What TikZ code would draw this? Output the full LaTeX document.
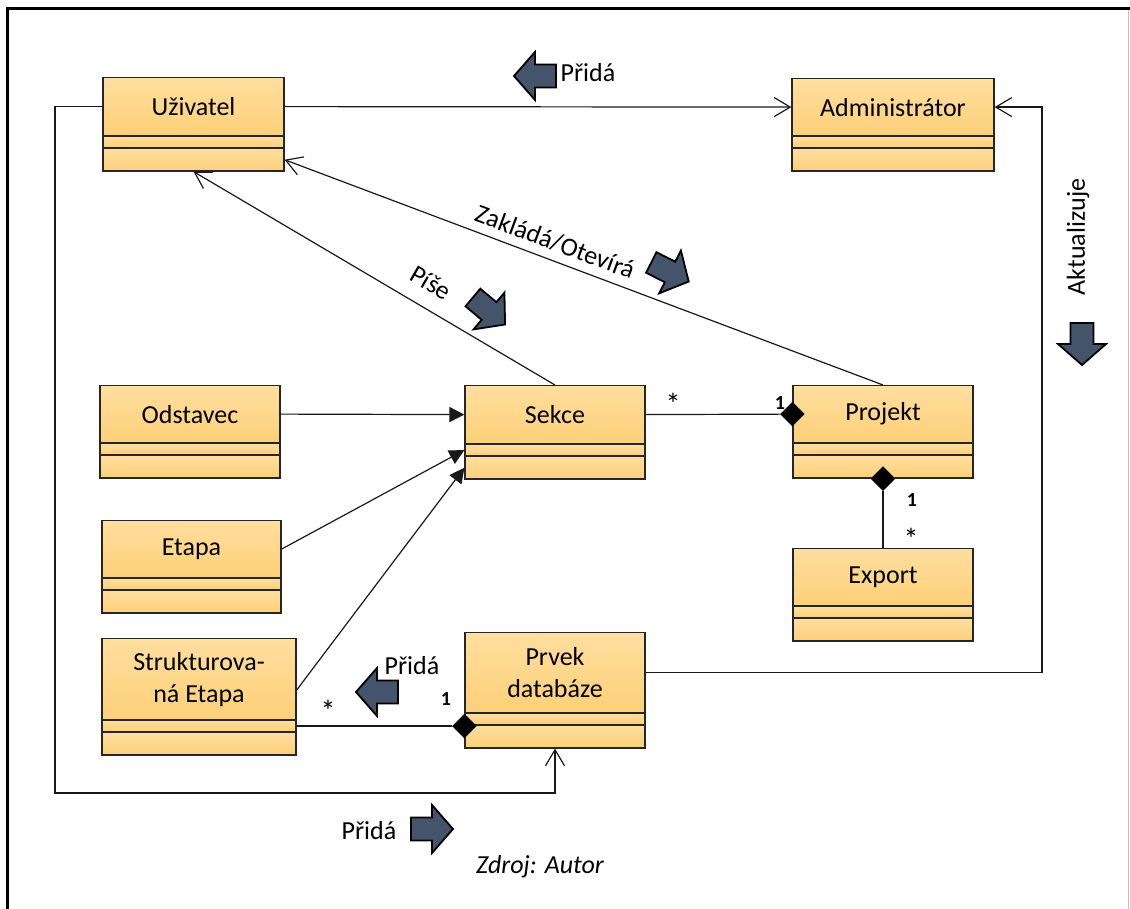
\documentclass[tikz,border=0pt]{standalone}
\usepackage{fontspec}
\setmainfont{Carlito}
\usetikzlibrary{arrows.meta,shapes.geometric,calc}

\definecolor{clsTop}{HTML}{FFDE9F}
\definecolor{clsBot}{HTML}{FDD078}
\definecolor{clsEdge}{HTML}{262626}
\definecolor{blkArrow}{HTML}{44546A}

\tikzset{
  clsname/.style={draw=clsEdge, line width=1.2pt, top color=clsTop, bottom color=clsBot,
    inner sep=0pt, align=center, font=\fontsize{26}{32}\selectfont},
  clscomp/.style={draw=clsEdge, line width=1.2pt, top color=clsTop, bottom color=clsBot, inner sep=0pt},
  conn/.style={draw=black!90, line width=1.2pt},
  navig/.style={conn, -{Straight Barb[length=16pt,width=19pt]}},
  gener/.style={conn, -{Triangle[length=15pt,width=15pt]}},
  compdiam/.style={diamond, fill=black, draw=black, minimum width=24pt, minimum height=24pt, inner sep=0pt},
  lbl/.style={font=\fontsize{26}{30}\selectfont, inner sep=0pt},
  mult/.style={font=\fontsize{20}{22}\selectfont\bfseries, inner sep=0pt},
  multstar/.style={font=\fontsize{30}{32}\selectfont, inner sep=0pt},
  pics/blockarrow/.style={code={
    \draw[fill=blkArrow, draw=black, line width=1.8pt, line join=miter]
      (-21,-11.5) -- (0,-11.5) -- (0,-24) -- (21,0) -- (0,24) -- (0,11.5) -- (-21,11.5) -- cycle;
  }},
}

% UML class: name compartment, attribute and operation compartments
% #1 name, #2 centre x, #3 top y, #4 width, #5 height of the name part, #6 label
\newcommand{\umlclass}[6]{%
  \node[clsname, minimum width=#4pt, minimum height=#5pt, anchor=north] (#1) at (#2,#3) {#6};
  \node[clscomp, minimum width=#4pt, minimum height=10.5pt, anchor=north] (#1-a) at (#1.south) {};
  \node[clscomp, minimum width=#4pt, minimum height=22.5pt, anchor=north] (#1-o) at (#1-a.south) {};
}

\begin{document}
\begin{tikzpicture}[x=1pt, y=-1pt]
\useasboundingbox (0,0) rectangle (1130,909);
\fill[white] (0,0) rectangle (1130,909);

% frame
\draw[line width=3pt] (7.5,909) -- (7.5,9) -- (1130,9);
\draw[black!25, line width=1.5pt] (1128.5,10.5) -- (1128.5,909);

% classes
\umlclass{uziv}{193.5}{77}{181}{58}{Uživatel}
\umlclass{admin}{893}{78}{202}{57}{Administrátor}
\umlclass{odst}{190}{385}{180}{57}{Odstavec}
\umlclass{etapa}{191.5}{520}{179}{57}{Etapa}
\umlclass{strukt}{199}{638}{194}{81}{Strukturova-\\ná Etapa}
\umlclass{sekce}{555}{385}{180}{58}{Sekce}
\umlclass{projekt}{883}{385}{180}{57}{Projekt}
\umlclass{export}{883}{548}{180}{57}{Export}
\umlclass{prvek}{555}{632}{180}{80}{Prvek\\databáze}

% navigable associations
\draw[navig] (uziv.east) -- (admin.west);
\coordinate (loopL) at (55,793);
\draw[navig] (uziv.west) -| (loopL) -| (prvek-o.south);
\coordinate (aktR) at (1042,106);
\draw[navig] (prvek.east) -| (aktR |- admin.east) -- (admin.east);
\draw[navig] (sekce.north) -- (uziv-o.south);
\draw[navig] (projekt.north) -- (uziv-o.east);

% generalisations
\draw[gener] (odst.east) -- (sekce.west);
\draw[gener] (etapa.east) -- (sekce-a.west);
\draw[gener] ([yshift=-11pt]strukt.east) -- (sekce-o.west);

% compositions
\node[compdiam] (dP) at (projekt.west) {};
\draw[conn] (sekce.east) -- (dP);
\node[compdiam] (dE) at (projekt-o.south) {};
\draw[conn] (dE) -- (export.north);
\node[compdiam] (dD) at (prvek.west |- strukt-a.east) {};
\draw[conn] (strukt-a.east) -- (dD);

% multiplicities
\node[multstar] (m1) at (673,404) {*};
\node[mult] (m2) at (780,403) {1};
\node[mult] (m3) at (912,500) {1};
\node[multstar] (m4) at (911,539) {*};
\node[multstar] (m5) at (328,711) {*};
\node[mult] (m6) at (446,699) {1};

% relation names
\node[lbl] (pTop) at (588,73) {Přidá};
\node[lbl] (pLeft) at (412,666) {Přidá};
\node[lbl] (pBot) at (369,831) {Přidá};
\node[lbl, rotate=90] (akt) at (1078,237) {Aktualizuje};
\node[lbl, rotate=-30] (pise) at (431,283) {Píše};
\node[lbl, rotate=-20.5] (zakl) at (555,242) {Zakládá/Otevírá};
\node[lbl, font=\fontsize{26}{30}\selectfont\itshape] (src) at (540,867) {Zdroj: Autor};

% direction arrows
\pic[rotate=180] at (535,76) {blockarrow};
\pic[rotate=180] at (377,692) {blockarrow};
\pic at (432,829) {blockarrow};
\pic[rotate=-90] at (1082,344) {blockarrow};
\pic[rotate=-40] at (489,311) {blockarrow};
\pic[rotate=-27] at (670,272) {blockarrow};
\end{tikzpicture}
\end{document}
